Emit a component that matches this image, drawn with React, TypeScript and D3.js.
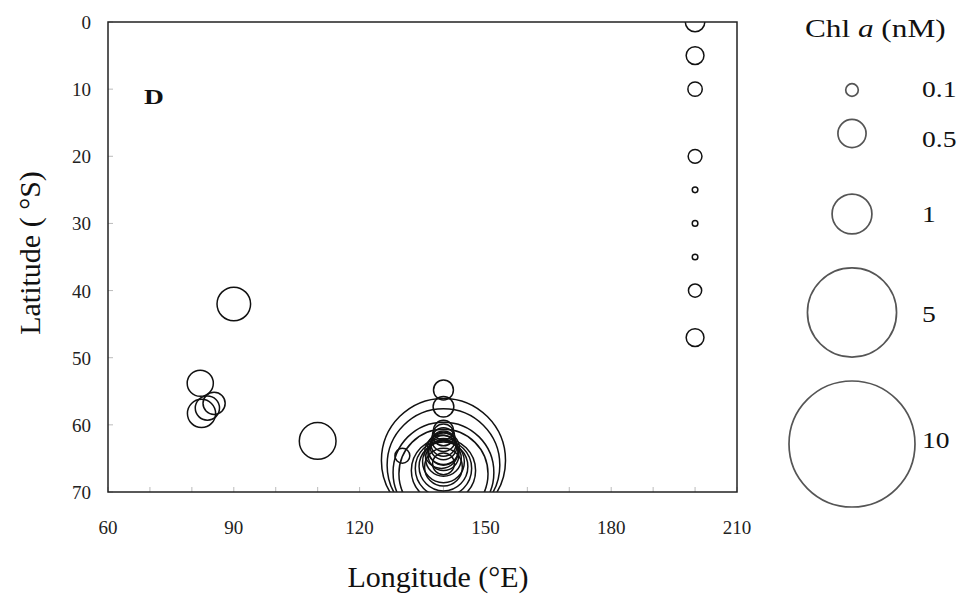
import React, { useEffect, useRef } from "react";
import * as d3 from "d3";

const lon = [200, 200, 200, 200, 200, 200, 200, 200, 200,
  90, 82, 82.3, 83.7, 85.3, 110, 130.2,
  140, 140, 140, 140, 140, 140, 140, 140, 140, 140, 140, 140, 140, 140, 140, 140, 140, 140, 140, 139.5, 140, 140];
const lat = [0, 5, 10, 20, 25, 30, 35, 40, 47,
  42, 53.8, 58.3, 57.5, 56.8, 62.4, 64.6,
  54.8, 57.3, 65.3, 66.0, 67.1, 67.3, 66.8, 66.5, 66.2, 65.5, 65.0, 64.5, 63.8, 63.2, 62.8, 62.2, 61.5, 60.8, 65.8, 64.0, 66.3, 63.5];
const chl = [0.24, 0.2, 0.13, 0.12, 0.02, 0.02, 0.02, 0.11, 0.2,
  0.71, 0.43, 0.5, 0.37, 0.31, 0.85, 0.14,
  0.25, 0.27, 9.7, 8.0, 6.4, 5.0, 2.6, 2.0, 1.5, 1.1, 0.8, 0.6, 0.55, 0.45, 0.4, 0.35, 0.3, 0.25, 0.3, 0.7, 0.9, 0.65];

const xTickLabels = [60, 90, 120, 150, 180, 210];
const xMinorTicks = d3.range(60, 211, 10);
const yTickLabels = [0, 10, 20, 30, 40, 50, 60, 70];
const legendValues = [0.1, 0.5, 1, 5, 10];
const legendLabels = ["0.1", "0.5", "1", "5", "10"];

export default function App() {
  const ref = useRef<SVGSVGElement>(null);
  useEffect(() => {
    const svg = d3.select(ref.current);
    svg.selectAll("*").remove();
    const W = 963, H = 597;
    const L = 108, R = 737, T = 22, B = 492;
    const font = "'Liberation Serif', 'Times New Roman', serif";
    const x = d3.scaleLinear().domain([60, 210]).range([L, R]);
    const y = d3.scaleLinear().domain([0, 70]).range([T, B]);
    const r = d3.scaleSqrt().domain([0, 10]).range([0, 63]);

    svg.append("rect").attr("width", W).attr("height", H).attr("fill", "#fff");

    svg.append("defs").append("clipPath").attr("id", "plotclip")
      .append("rect").attr("x", L).attr("y", T).attr("width", R - L).attr("height", B - T);

    // minor ticks
    const g = svg.append("g");
    g.selectAll("line.xt").data(xMinorTicks).enter().append("line")
      .attr("x1", d => x(d)).attr("x2", d => x(d)).attr("y1", B).attr("y2", B - 5)
      .attr("stroke", "#bbb").attr("stroke-width", 1);
    g.selectAll("line.yt").data(yTickLabels).enter().append("line")
      .attr("x1", L).attr("x2", L + 5).attr("y1", d => y(d)).attr("y2", d => y(d))
      .attr("stroke", "#bbb").attr("stroke-width", 1);

    // bubbles
    const pts = lon.map((lo, i) => ({ lo, la: lat[i], v: chl[i] }));
    svg.append("g").attr("clip-path", "url(#plotclip)")
      .selectAll("circle").data(pts).enter().append("circle")
      .attr("cx", d => x(d.lo)).attr("cy", d => y(d.la)).attr("r", d => r(d.v))
      .attr("fill", "none").attr("stroke", "#111").attr("stroke-width", 1.5);

    // frame
    svg.append("rect").attr("x", L).attr("y", T).attr("width", R - L).attr("height", B - T)
      .attr("fill", "none").attr("stroke", "#222").attr("stroke-width", 1.5);

    // tick labels
    svg.append("g").selectAll("text").data(xTickLabels).enter().append("text")
      .attr("x", d => x(d)).attr("y", 534).attr("text-anchor", "middle")
      .attr("font-family", font).attr("font-size", 19).attr("fill", "#222").text(d => d);
    svg.append("g").selectAll("text").data(yTickLabels).enter().append("text")
      .attr("x", 91).attr("y", d => y(d) + 7).attr("text-anchor", "end")
      .attr("font-family", font).attr("font-size", 19).attr("fill", "#222").text(d => d);

    // axis titles
    svg.append("text").attr("x", 438).attr("y", 587).attr("text-anchor", "middle")
      .attr("font-family", font).attr("font-size", 30).attr("fill", "#111").text("Longitude (°E)");
    svg.append("text").attr("transform", `translate(40,253) rotate(-90)`)
      .attr("text-anchor", "middle").attr("font-family", font).attr("font-size", 30)
      .attr("fill", "#111").text("Latitude ( °S)");

    svg.append("g").attr("transform", "translate(144,104) scale(1.25,1)")
      .append("text").attr("x", 0).attr("y", 0).attr("font-family", font)
      .attr("font-weight", "bold").attr("font-size", 22).attr("fill", "#111").text("D");

    // legend
    const lt = svg.append("g").attr("transform", "translate(805,37) scale(1.25,1)")
      .append("text").attr("x", 0).attr("y", 0)
      .attr("font-family", font).attr("font-size", 25).attr("fill", "#111");
    lt.append("tspan").text("Chl ");
    lt.append("tspan").attr("font-style", "italic").text("a");
    lt.append("tspan").text(" (nM)");

    const circleY = [90, 133.5, 214, 312.5, 444];
    const labelY = [97, 146.5, 221.5, 322, 448];
    const lg = svg.append("g");
    legendValues.forEach((v, i) => {
      lg.append("circle").attr("cx", 852).attr("cy", circleY[i]).attr("r", r(v))
        .attr("fill", "none").attr("stroke", "#555").attr("stroke-width", 1.7);
      lg.append("g").attr("transform", `translate(922,${labelY[i]}) scale(1.2,1)`)
        .append("text").attr("x", 0).attr("y", 0)
        .attr("font-family", font).attr("font-size", 23).attr("fill", "#111").text(legendLabels[i]);
    });
  }, []);
  return (
    <svg ref={ref} width={963} height={597}
      style={{ position: "absolute", left: 0, top: 0, display: "block" }} />
  );
}
